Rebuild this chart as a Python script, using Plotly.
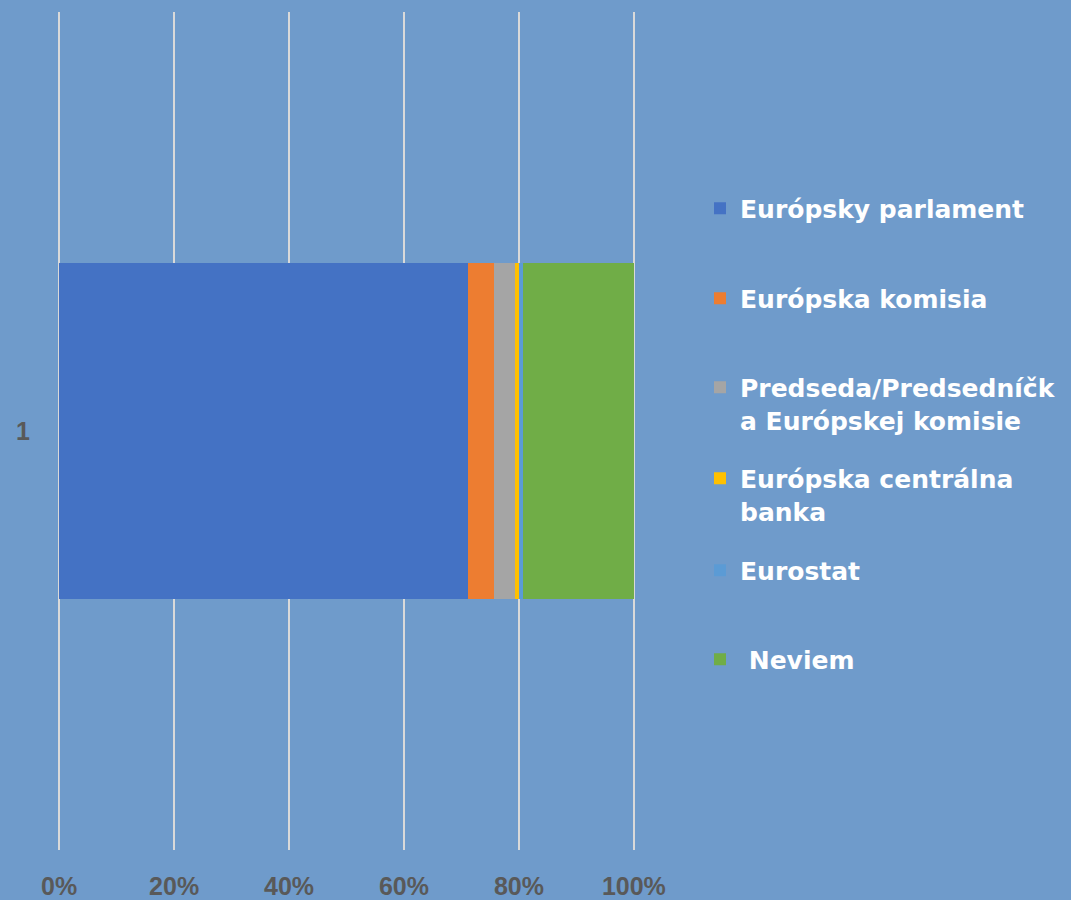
import plotly.graph_objects as go

categories = ["1"]
series_names = [
    "Európsky parlament",
    "Európska komisia",
    "Predseda/Predsedníčk<br>a Európskej komisie",
    "Európska centrálna<br>banka",
    "Eurostat",
    " Neviem",
]
series_values = [71.2, 4.5, 3.6, 0.8, 0.6, 19.3]
series_colors = ["#4472C4", "#ED7D31", "#A5A5A5", "#FFC000", "#5B9BD5", "#70AD47"]
x_tickvals = [0, 20, 40, 60, 80, 100]
x_ticktext = ["0%", "20%", "40%", "60%", "80%", "100%"]

# first-line centre of each legend entry (px from top)
legend_centres = [207, 297, 386, 477, 569, 658]

BG = "#6F9BCB"
W, H = 1071, 900
TICK_FONT = dict(family="Liberation Sans Narrow, Arial Narrow, Arial, sans-serif",
                 size=25, color="#595959", weight="bold")
LEG_FONT = dict(family="DejaVu Sans, Verdana, sans-serif", size=25, color="white", weight="bold")

fig = go.Figure()
layout_legends = {}
for i, (name, val, col) in enumerate(zip(series_names, series_values, series_colors)):
    lname = "legend" if i == 0 else f"legend{i+1}"
    fig.add_trace(go.Bar(
        y=categories, x=[val], name=name, orientation="h",
        marker=dict(color=col, line=dict(width=0)),
        legend=lname,
    ))
    layout_legends[lname] = dict(
        x=700 / W, xref="container", xanchor="left",
        y=1 - (legend_centres[i] - 21.5) / H, yref="container", yanchor="top",
        bgcolor="rgba(0,0,0,0)", borderwidth=0,
        font=LEG_FONT, valign="top", itemwidth=30,
    )

fig.update_layout(
    width=W, height=H,
    barmode="stack", bargap=0.6,
    paper_bgcolor=BG, plot_bgcolor=BG,
    margin=dict(l=58, r=W - 635, t=12, b=50, autoexpand=False),
    showlegend=True,
    **layout_legends,
)
fig.update_xaxes(
    range=[-0.2, 100.2], tickvals=x_tickvals, ticktext=x_ticktext,
    showgrid=True, gridcolor="#D9D9D9", gridwidth=2,
    zeroline=False, showline=False, ticks="",
    tickfont=TICK_FONT, ticklabelstandoff=19, automargin=False,
)
fig.update_yaxes(
    type="category", showgrid=False, zeroline=False, showline=False, ticks="",
    tickfont=TICK_FONT, ticklabelstandoff=27, automargin=False,
)

fig.write_html(
    "out.html",
    config={"displayModeBar": False},
    post_script="document.body.style.margin='0';document.body.style.overflow='hidden';",
)
